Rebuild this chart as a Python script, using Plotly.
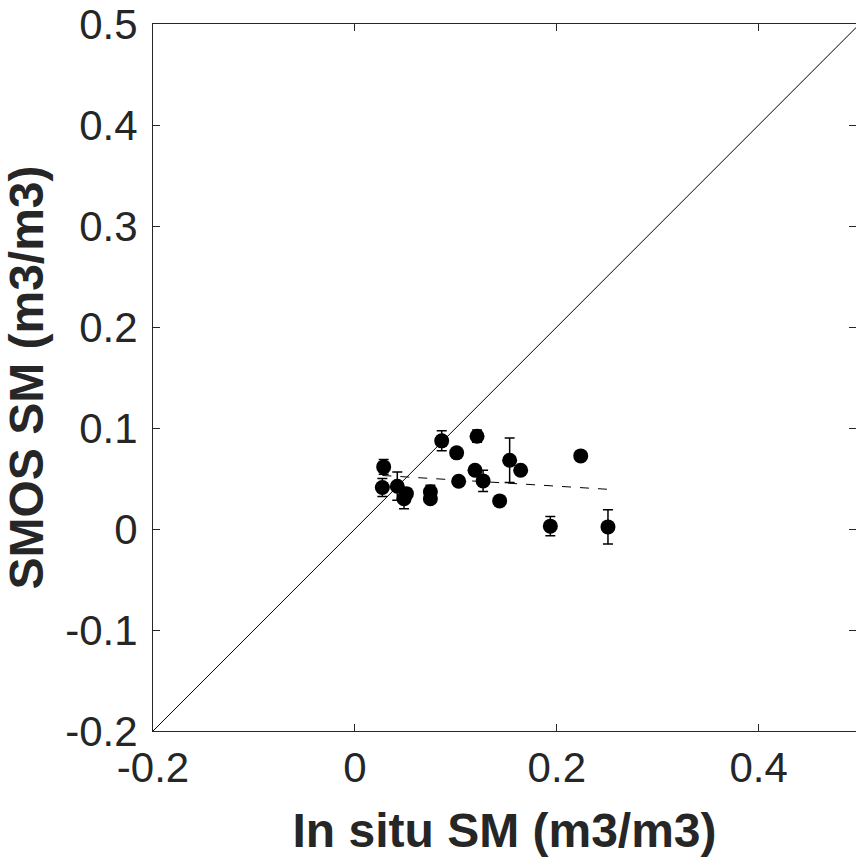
import plotly.graph_objects as go

# Data
insitu_sm = [0.0285, 0.0272, 0.042, 0.051, 0.0487, 0.0748, 0.0748, 0.086, 0.1008, 0.1028,
             0.121, 0.119, 0.127, 0.1434, 0.1533, 0.1642, 0.2237, 0.1936, 0.2507]
smos_sm = [0.0615, 0.0411, 0.0424, 0.035, 0.030, 0.0368, 0.030, 0.0873, 0.0754, 0.0473,
           0.0919, 0.0582, 0.0476, 0.0278, 0.068, 0.0582, 0.0724, 0.0028, 0.0021]
smos_err = [0.0073, 0.009, 0.014, 0.005, 0.010, 0.0066, 0.004, 0.0099, 0.003, 0.003,
            0.006, 0.004, 0.0105, 0.003, 0.022, 0.004, 0.003, 0.0095, 0.017]

one_to_one_x = [-0.2, 0.5]
one_to_one_y = [-0.2, 0.5]
fit_x = [0.0272, 0.2507]
fit_y = [0.0530, 0.0393]

x_ticks = [-0.2, 0, 0.2, 0.4]
x_tick_labels = ["-0.2", "0", "0.2", "0.4"]
y_ticks = [-0.2, -0.1, 0, 0.1, 0.2, 0.3, 0.4, 0.5]
y_tick_labels = ["-0.2", "-0.1", "0", "0.1", "0.2", "0.3", "0.4", "0.5"]

AX = "#262626"
FONT = "Liberation Sans, Arial, sans-serif"

fig = go.Figure()
fig.add_trace(go.Scatter(x=one_to_one_x, y=one_to_one_y, mode="lines",
                         line=dict(color="black", width=1), showlegend=False))
fig.add_trace(go.Scatter(x=fit_x, y=fit_y, mode="lines",
                         line=dict(color="black", width=1, dash="dash"), showlegend=False))
fig.add_trace(go.Scatter(x=insitu_sm, y=smos_sm, mode="markers",
                         marker=dict(color="black", size=15, line=dict(width=0)),
                         error_y=dict(type="data", array=smos_err, visible=True,
                                      color="black", thickness=1.5, width=5),
                         showlegend=False))

fig.update_layout(
    width=856, height=860,
    margin=dict(l=153, r=0, t=24, b=129, autoexpand=False),
    plot_bgcolor="white", paper_bgcolor="white",
    font=dict(family=FONT, color=AX),
)
fig.update_xaxes(range=[-0.2, 0.4964], tickvals=x_ticks, ticktext=x_tick_labels,
                 showgrid=False, zeroline=False, showline=True, linecolor=AX, linewidth=1,
                 mirror="ticks", ticks="inside", ticklen=7, tickcolor=AX, automargin=False,
                 tickfont=dict(size=42, color=AX), ticklabelstandoff=0,
                 title=dict(text="<b>In situ SM (m3/m3)</b>", font=dict(size=48, color=AX), standoff=22))
fig.update_yaxes(range=[-0.2, 0.5], tickvals=y_ticks, ticktext=y_tick_labels,
                 showgrid=False, zeroline=False, showline=True, linecolor=AX, linewidth=1,
                 mirror="ticks", ticks="inside", ticklen=7, tickcolor=AX, automargin=False,
                 tickfont=dict(size=42, color=AX), ticklabelstandoff=6,
                 title=dict(text="<b>SMOS SM (m3/m3)</b>", font=dict(size=48, color=AX), standoff=12))

fig.write_html("out.html", config={"displayModeBar": False},
               post_script="document.body.style.margin='0';document.body.style.padding='0';"
                           "document.body.style.overflow='hidden';")
